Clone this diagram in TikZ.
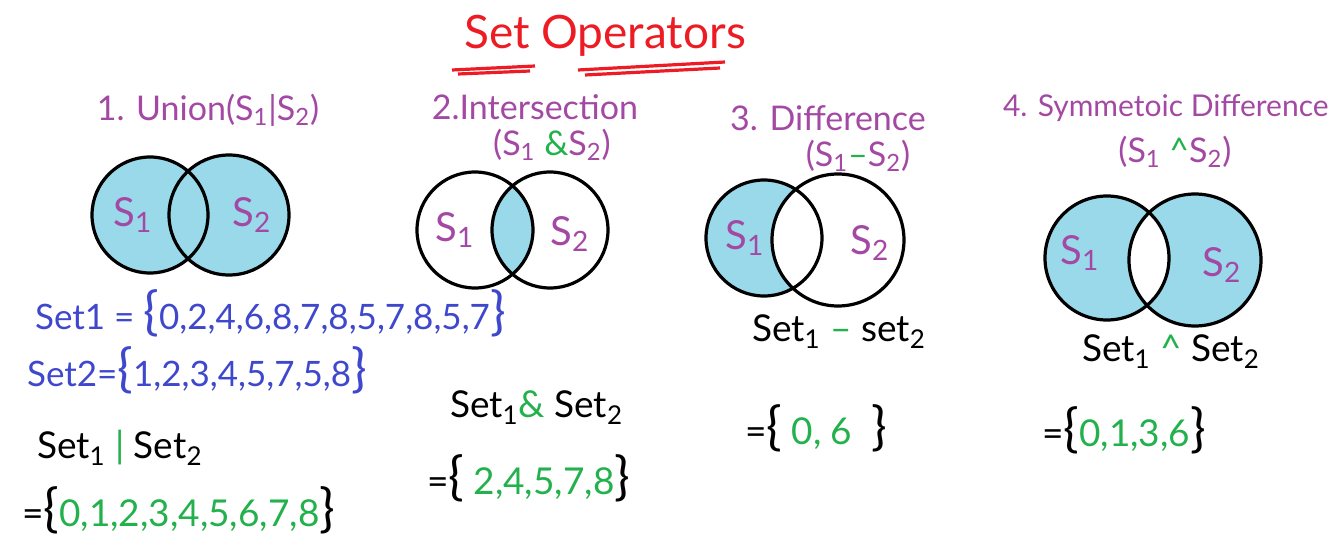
\documentclass[tikz,border=0pt]{standalone}
\usepackage{fontspec}
\setmainfont{Lato}
\usetikzlibrary{positioning}
\definecolor{vennblue}{HTML}{99D9EA}
\definecolor{penpurple}{HTML}{A349A4}
\definecolor{penblue}{HTML}{3F48CC}
\definecolor{pengreen}{HTML}{22B14C}
\definecolor{penred}{HTML}{ED1C24}
\newcommand{\gr}[1]{\textcolor{pengreen}{#1}}
\newcommand{\sub}[1]{\textsubscript{#1}}
\newcommand{\lbr}{{\fontsize{26}{26}\selectfont\{}}
\newcommand{\rbr}{{\fontsize{26}{26}\selectfont\}}}
\tikzset{
    ring/.style={draw=black,line width=1.6pt},
    opname/.style={text=penpurple,font=\fontsize{17}{20}\selectfont,align=center},
    setname/.style={text=penpurple,font=\fontsize{20}{24}\selectfont},
    given/.style={text=penblue,font=\fontsize{17.5}{21}\selectfont,anchor=west},
    expr/.style={text=black,font=\fontsize{18.5}{22}\selectfont,anchor=west},
}
\begin{document}
\begin{tikzpicture}[x=0.5pt,y=-0.5pt]
    \useasboundingbox (0,0) rectangle (1340,551);
    % title
    \node[text=penred,font=\fontsize{23}{28}\selectfont] (title) at (605,36) {Set Operators};
    \draw[penred,line width=1.6pt] (452,70) -- (535,66) (458,74) -- (530,71)
        (578,70) -- (725,62) (585,75) -- (720,68);
    % centres of the circles
    \coordinate (uL) at (150,215);
    \coordinate (uR) at (229,215);
    \coordinate (iL) at (475,230);
    \coordinate (iR) at (550,230);
    \coordinate (dL) at (764,238);
    \coordinate (dR) at (838,240);
    \coordinate (sL) at (1107,258);
    \coordinate (sR) at (1195,260);
    % 1. union
    \fill[vennblue] (uL) circle[radius=29pt] (uR) circle[radius=30pt];
    \draw[ring] (uL) circle[radius=29pt] (uR) circle[radius=30pt];
    % 2. intersection
    \begin{scope}
        \clip (iL) circle[radius=29pt];
        \fill[vennblue] (iR) circle[radius=29pt];
    \end{scope}
    \draw[ring] (iL) circle[radius=29pt] (iR) circle[radius=29pt];
    % 3. difference
    \fill[vennblue] (dL) circle[radius=29pt];
    \begin{scope}
        \clip (dL) circle[radius=29pt];
        \fill[white] (dR) circle[radius=33pt];
    \end{scope}
    \draw[ring] (dL) circle[radius=29pt] (dR) circle[radius=33pt];
    % 4. symmetric difference
    \fill[vennblue] (sL) circle[radius=31pt] (sR) circle[radius=33pt];
    \begin{scope}
        \clip (sL) circle[radius=31pt];
        \fill[white] (sR) circle[radius=33pt];
    \end{scope}
    \draw[ring] (sL) circle[radius=31pt] (sR) circle[radius=33pt];
    % operator names
    \node[opname] (union) at (208,110) {1. Union(S\sub{1}|S\sub{2})};
    \node[opname] (inter) at (535,107) {2.Intersection};
    \node[opname] (interS) at (552,145) {(S\sub{1} \gr{\&}S\sub{2})};
    \node[opname] (diff) at (828,118) {3. Difference};
    \node[opname] (diffS) at (858,156) {(S\sub{1}\gr{--}S\sub{2})};
    \node[opname,anchor=west,font=\fontsize{15}{18}\selectfont] (sym) at (996,108) {4. Symmetoic Difference};
    \node[opname] (symS) at (1175,152) {(S\sub{1} \gr{\textasciicircum}S\sub{2})};
    % set labels inside the circles
    \node[setname] (uS1) at (133,215) {S\sub{1}};
    \node[setname] (uS2) at (252,215) {S\sub{2}};
    \node[setname] (iS1) at (455,230) {S\sub{1}};
    \node[setname] (iS2) at (570,234) {S\sub{2}};
    \node[setname] (dS1) at (745,238) {S\sub{1}};
    \node[setname] (dS2) at (870,243) {S\sub{2}};
    \node[setname] (sS1) at (1080,253) {S\sub{1}};
    \node[setname] (sS2) at (1222,265) {S\sub{2}};
    % the two sets
    \node[given] (set1) at (28,313) {Set1 = \lbr0,2,4,6,8,7,8,5,7,8,5,7\rbr};
    \node[given] (set2) at (20,370) {Set2=\lbr1,2,3,4,5,7,5,8\rbr};
    % results
    \node[expr] (uExpr) at (30,448) {Set\sub{1} \gr{|} Set\sub{2}};
    \node[expr] (uRes) at (15,510) {=\lbr\gr{0,1,2,3,4,5,6,7,8}\rbr};
    \node[expr] (iExpr) at (443,408) {Set\sub{1}\gr{\&} Set\sub{2}};
    \node[expr] (iRes) at (420,478) {=\lbr\ \gr{2,4,5,7,8}\rbr};
    \node[expr] (dExpr) at (745,332) {Set\sub{1} \gr{--} set\sub{2}};
    \node[expr] (dRes) at (738,428) {=\lbr\ \gr{0, 6} \ \rbr};
    \node[expr] (sExpr) at (1075,352) {Set\sub{1} \gr{\textasciicircum} Set\sub{2}};
    \node[expr] (sRes) at (1035,430) {=\lbr\gr{0,1,3,6}\rbr};
\end{tikzpicture}
\end{document}
